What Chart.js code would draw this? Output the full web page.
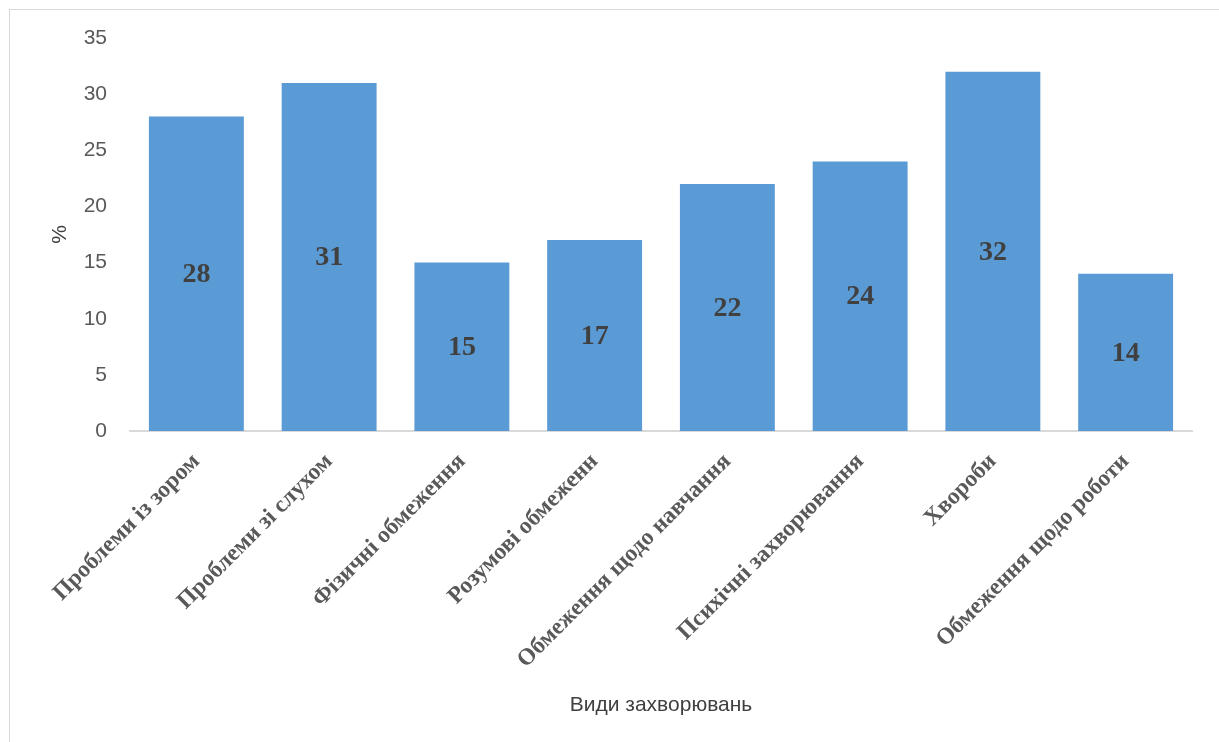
<!DOCTYPE html>
<html>
<head>
<meta charset="utf-8">
<script src="https://cdn.jsdelivr.net/npm/chart.js@4.4.1/dist/chart.umd.min.js"></script>
<style>
  html, body { margin: 0; padding: 0; background: #fff; overflow: hidden; }
  #frame { position: absolute; left: 9px; top: 9px; width: 1400px; height: 900px; border: 1px solid #d9d9d9; }
  #wrap { position: absolute; left: 0; top: 0; width: 1219px; height: 742px; }
</style>
</head>
<body>
<div id="frame"></div>
<div id="wrap"><canvas id="myChart" width="1219" height="742"></canvas></div>
<script>
'use strict'

// ---------------- data ----------------
const categories = [
    'Проблеми із зором',
    'Проблеми зі слухом',
    'Фізичні обмеження',
    'Розумові обмеженн',
    'Обмеження щодо навчання',
    'Психічні захворювання',
    'Хвороби',
    'Обмеження щодо роботи'
];
const values = [28, 31, 15, 17, 22, 24, 32, 14];
const yTicks = [0, 5, 10, 15, 20, 25, 30, 35];
const xTitle = 'Види захворювань';
const yTitle = '%';

// draws the value in the middle of each bar
const barLabels = {
    id: 'barLabels',
    afterDatasetsDraw(chart) {
        const ctx = chart.ctx;
        const meta = chart.getDatasetMeta(0);
        ctx.save();
        ctx.font = 'bold 28px "Liberation Serif", "Times New Roman", serif';
        ctx.fillStyle = '#404040';
        ctx.textAlign = 'center';
        ctx.textBaseline = 'middle';
        meta.data.forEach(function(bar, i) {
            let mid = (bar.y + bar.base) / 2;
            ctx.fillText(values[i], bar.x, mid + 1);
        });
        ctx.restore();
    }
};

const ctx = document.getElementById('myChart').getContext('2d');
const myChart = new Chart(ctx, {
    type: 'bar',
    data: {
        labels: categories,
        datasets: [{
            data: values,
            backgroundColor: '#5b9bd5',
            borderWidth: 0,
            categoryPercentage: 0.715,
            barPercentage: 1
        }]
    },
    options: {
        responsive: false,
        animation: false,
        layout: { padding: { left: 44, top: 38, right: 27, bottom: 20 } },
        plugins: {
            legend: { display: false },
            tooltip: { enabled: false }
        },
        scales: {
            x: {
                grid: { display: false, drawTicks: false },
                border: { display: true, color: '#d9d9d9', width: 2 },
                ticks: {
                    minRotation: 45,
                    maxRotation: 45,
                    autoSkip: false,
                    padding: 17,
                    color: '#595959',
                    font: { family: '"Liberation Serif", "Times New Roman", serif', size: 23.5, weight: 'bold' }
                },
                title: {
                    display: true,
                    text: xTitle,
                    color: '#404040',
                    font: { family: '"Liberation Sans", Arial, sans-serif', size: 21 }
                },
                afterFit: function(scale) { scale.height = 742 - 431 - 20; }
            },
            y: {
                min: 0,
                max: 35,
                grid: { display: false, drawTicks: false },
                border: { display: false },
                afterBuildTicks: function(scale) {
                    scale.ticks = yTicks.map(v => ({ value: v }));
                },
                ticks: {
                    padding: 23,
                    color: '#595959',
                    font: { family: '"Liberation Sans", Arial, sans-serif', size: 21 }
                },
                title: {
                    display: true,
                    text: yTitle,
                    color: '#404040',
                    font: { family: '"Liberation Sans", Arial, sans-serif', size: 21 }
                },
                afterFit: function(scale) { scale.width = 86; }
            }
        }
    },
    plugins: [barLabels]
});
</script>
</body>
</html>
